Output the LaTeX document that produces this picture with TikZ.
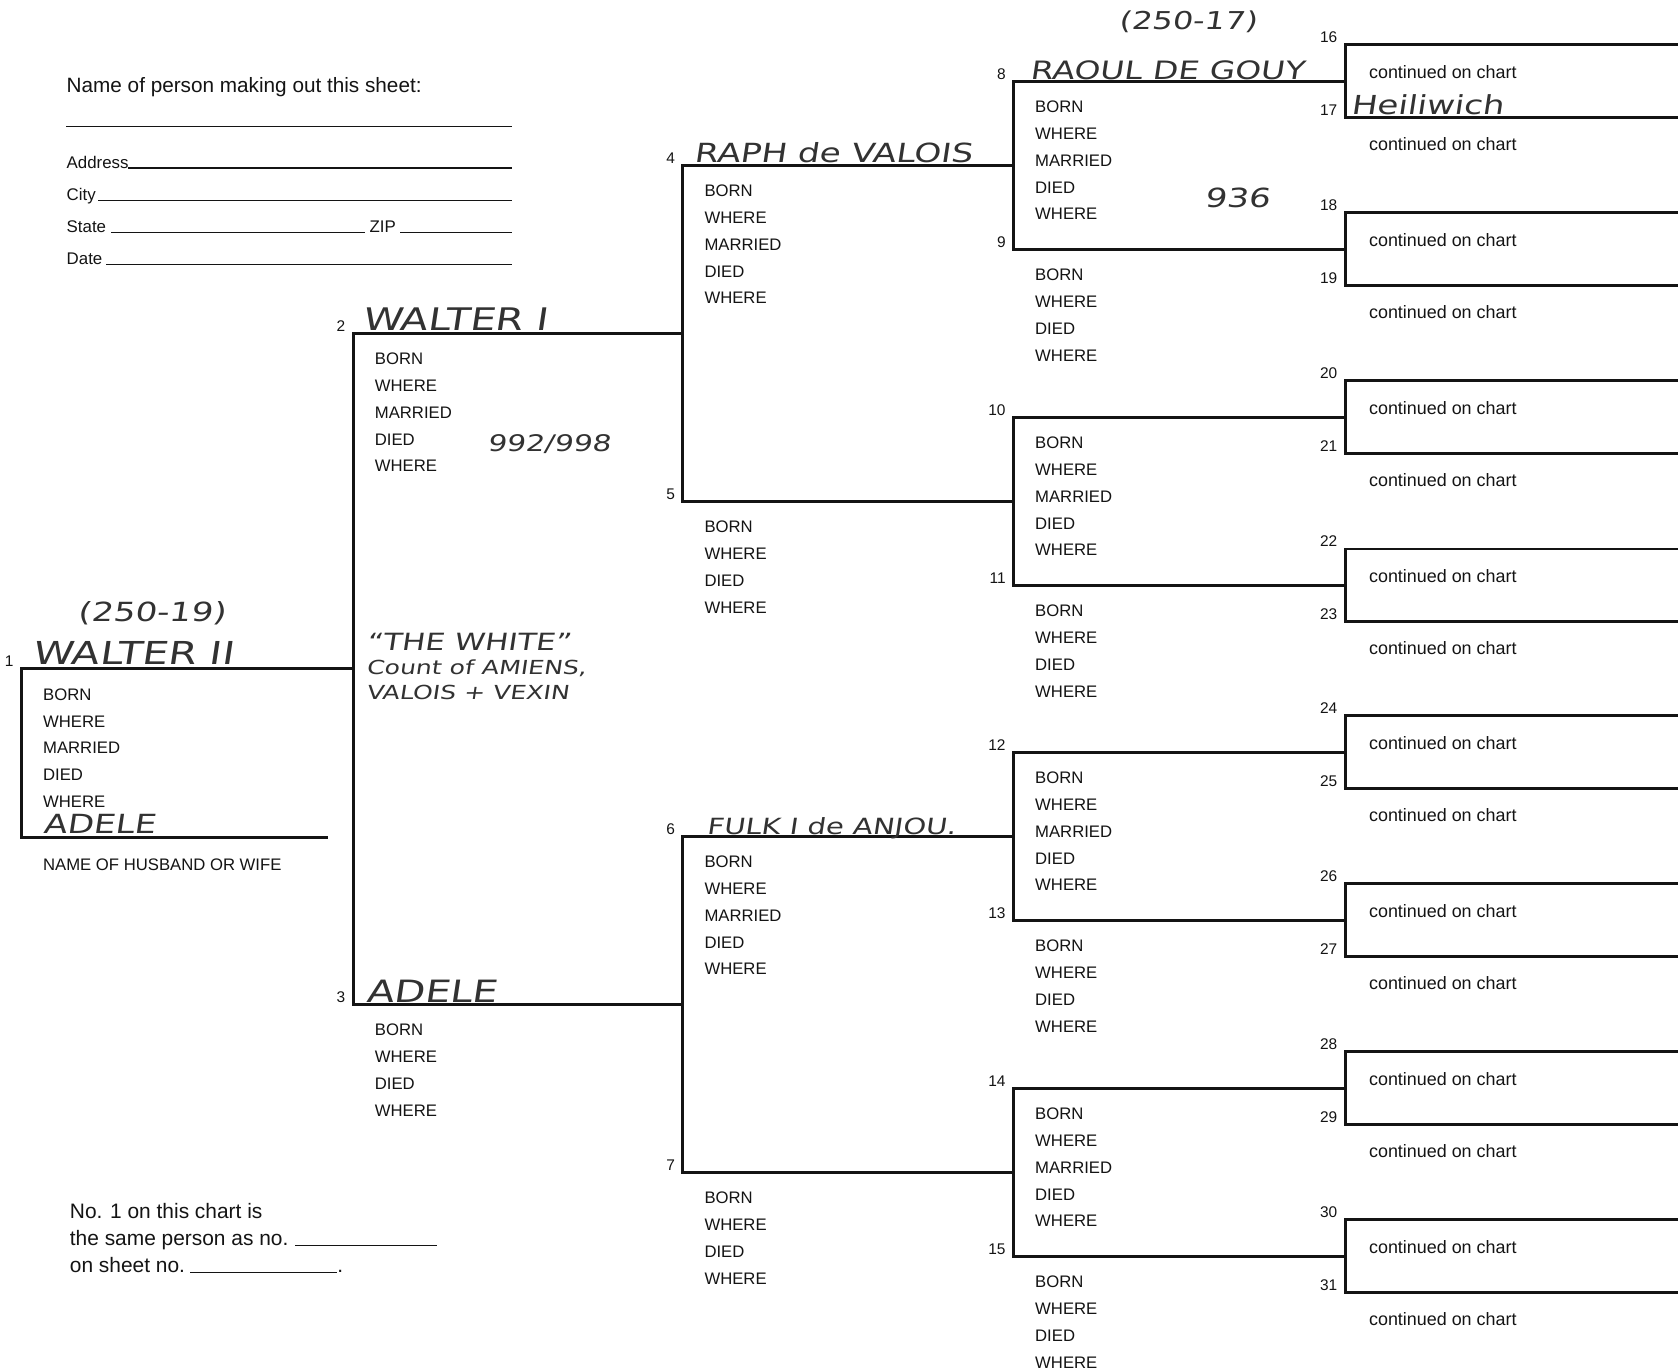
\documentclass[tikz,border=0pt]{standalone}
\usepackage{fontspec}
\setmainfont{Liberation Sans}
\newfontfamily\handfont[FakeSlant=0.15,FakeStretch=1.3]{DejaVu Sans}
\usetikzlibrary{calc}
\definecolor{chartink}{RGB}{20,20,20}
\definecolor{penink}{RGB}{50,50,50}
\newcommand{\fs}[1]{\fontsize{#1}{#1}\selectfont}

\begin{document}
\begin{tikzpicture}[x=0.021404cm,y=-0.021404cm,line cap=rect,
  chartline/.style={draw=chartink,line width=1.7pt},
  formline/.style={draw=chartink,line width=0.6pt},
  fact/.style={anchor=west,inner sep=0pt,text=chartink,font=\fs{9.5}},
  contd/.style={anchor=west,inner sep=0pt,text=chartink,font=\fs{10.2}},
  pnum/.style={anchor=base east,inner sep=0pt,text=chartink,font=\fs{8.8}},
  formtext/.style={anchor=base west,inner sep=0pt,text=chartink},
  hand/.style={anchor=base west,inner sep=0pt,text=penink}]
 \path[use as bounding box,fill=white] (0,0) rectangle (1568,1279);

 % sheet details, top left
 \node[formtext,font=\fs{11.8}] (maker) at (62,86) {Name of person making out this sheet:};
 \coordinate (formright) at (478,118);
 \draw[formline] (maker.west |- formright) -- (formright);
 \node[formtext,font=\fs{9.6}] (addr) at (62,157) {Address};
 \node[formtext,font=\fs{9.6}] (city) at (62,187) {City};
 \node[formtext,font=\fs{9.6}] (state) at (62,217) {State};
 \node[formtext,font=\fs{9.6}] (zip) at (345,217) {ZIP};
 \node[formtext,font=\fs{9.6}] (date) at (62,247) {Date};
 \draw[formline] (addr.base east) -- (addr.base east -| formright);
 \draw[formline] ($(city.base east)+(2,0)$) -- (city.base east -| formright);
 \draw[formline] ($(state.base east)+(5,0)$) -- ($(zip.base west)+(-4,0)$);
 \draw[formline] ($(zip.base east)+(4,0)$) -- (zip.base east -| formright);
 \draw[formline] ($(date.base east)+(4,0)$) -- (date.base east -| formright);

 % start of each person's line
 \coordinate (p1) at (20,625);
 \coordinate (p2) at (330,311.5);
 \coordinate (p3) at (330,938.5);
 \coordinate (p4) at (638,154.5);
 \coordinate (p5) at (638,468.5);
 \coordinate (p6) at (638,781.5);
 \coordinate (p7) at (638,1095.5);
 \foreach \k/\y in {8/76,9/233,10/390,11/547,12/703,13/860,14/1017,15/1174}
  \coordinate (p\k) at (947,\y);
 \foreach \k/\y in {16/42,17/110,18/199,19/267,20/356,21/424,22/513,23/581,
   24/669,25/737,26/826,27/894,28/983,29/1051,30/1140,31/1208}
  \coordinate (p\k) at (1257,\y);
 \coordinate (rim) at (1568,0);
 \coordinate (spouse) at (305,783);

 % brackets
 \foreach \k [evaluate=\k as \f using int(2*\k),
   evaluate=\k as \g using int(2*\k+1)] in {1,...,15} {
  \draw[chartline] (p\k) -- (p\k -| p\f);
  \draw[chartline] (p\f) -- (p\g);
 }
 \foreach \k in {16,...,31}
  \draw[chartline] (p\k) -- (p\k -| rim);
 \draw[chartline] (p1) -- (p1 |- spouse) -- (spouse);

 % numbers and printed entries
 \foreach \k in {1,...,31}
  \node[pnum] (n\k) at ($(p\k)+(-7,-2)$) {\k};
 \foreach \k in {1,2,4,6,8,10,12,14}
  \foreach \t [count=\i] in {BORN,WHERE,MARRIED,DIED,WHERE}
   \node[fact] (f\k-\i) at ($(p\k)+(20,{24+25*(\i-1)})$) {\t};
 \foreach \k in {3,5,...,15}
  \foreach \t [count=\i] in {BORN,WHERE,DIED,WHERE}
   \node[fact] (f\k-\i) at ($(p\k)+(20,{24+25*(\i-1)})$) {\t};
 \foreach \k in {16,...,31}
  \node[contd] (c\k) at ($(p\k)+(22,25)$) {continued on chart};
 \node[fact] (spname) at (40,808) {NAME OF HUSBAND OR WIFE};

 % handwritten entries
 \node[hand,font=\handfont\fs{15}] (h1) at (72,581) {(250-19)};
 \node[hand,font=\handfont\fs{18}] (h2) at (30,621) {WALTER II};
 \node[hand,font=\handfont\fs{15}] (h3) at (40,779) {ADELE};
 \node[hand,font=\handfont\fs{17.7}] (h4) at (338,309) {WALTER I};
 \node[hand,font=\handfont\fs{13}] (h5) at (455,422) {992/998};
 \node[hand,font=\handfont\fs{13.5}] (h6) at (342,608) {“THE WHITE”};
 \node[hand,font=\handfont\fs{11}] (h7) at (342,630) {Count of AMIENS,};
 \node[hand,font=\handfont\fs{11}] (h8) at (342,654) {VALOIS + VEXIN};
 \node[hand,font=\handfont\fs{17.5}] (h9) at (342,937) {ADELE};
 \node[hand,font=\handfont\fs{15}] (h10) at (648,152) {RAPH de VALOIS};
 \node[hand,font=\handfont\fs{12.7}] (h11) at (660,780) {FULK I de ANJOU.};
 \node[hand,font=\handfont\fs{14}] (h12) at (1045,28) {(250-17)};
 \node[hand,font=\handfont\fs{14.4}] (h13) at (962,74) {RAOUL DE GOUY};
 \node[hand,font=\handfont\fs{15}] (h14) at (1125,194) {936};
 \node[hand,font=\handfont\fs{14.9}] (h15) at (1262,107) {Heiliwich};

 % cross reference, bottom left
 \node[formtext,font=\fs{11.9}] (same1) at (65,1139) {No. 1 on this chart is};
 \node[formtext,font=\fs{11.9}] (same2) at (65,1164) {the same person as no.};
 \node[formtext,font=\fs{11.9}] (same3) at (65,1189) {on sheet no.};
 \coordinate (noteright) at (408,1164);
 \coordinate (sheetright) at (314,1189);
 \draw[formline] ($(same2.base east)+(6,0)$) -- (noteright);
 \draw[formline] ($(same3.base east)+(5,0)$) -- (sheetright);
 \node[formtext,font=\fs{11.9}] (dot) at ($(sheetright)+(1,0)$) {.};
\end{tikzpicture}
\end{document}
